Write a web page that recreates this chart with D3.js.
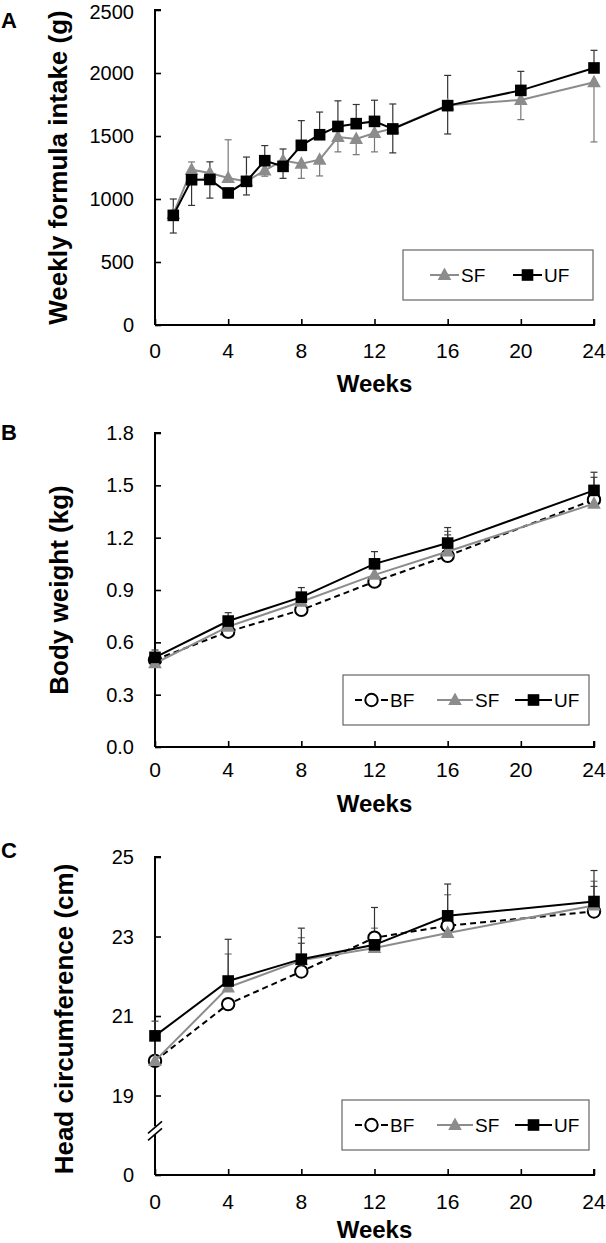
<!DOCTYPE html>
<html>
<head>
<meta charset="utf-8">
<script src="https://cdn.jsdelivr.net/npm/d3@7/dist/d3.min.js"></script>
<style>
  body { margin: 0; background: #fff; }
  svg { display: block; }
  text { font-family: Arial, "Liberation Sans", sans-serif; fill: #000; }
</style>
</head>
<body>
<svg id="chart" width="606" height="1243"></svg>
<script>
// ---- data: panel A (weekly formula intake, g) ----
const weeksA = [1, 2, 3, 4, 5, 6, 7, 8, 9, 10, 11, 12, 13, 16, 20, 24];
const intakeSF = [880, 1233, 1206, 1167, 1140, 1227, 1306, 1280, 1312, 1492, 1476, 1524, 1560, 1745, 1786, 1926];
const intakeSFUp = [0, 61, 0, 303, 0, 0, 0, 0, 0, 0, 0, 0, 0, 0, 0, 0];
const intakeSFDown = [0, 0, 0, 0, 0, 46, 0, 116, 129, 118, 124, 150, 0, 0, 156, 473];
const intakeUF = [870, 1153, 1155, 1048, 1140, 1304, 1259, 1426, 1510, 1576, 1598, 1616, 1556, 1741, 1862, 2040];
const intakeUFUp = [130, 0, 140, 0, 193, 120, 138, 196, 180, 203, 152, 168, 198, 240, 151, 140];
const intakeUFDown = [140, 204, 148, 0, 108, 0, 95, 0, 0, 0, 0, 0, 190, 225, 0, 0];
const yTicksA = [0, 500, 1000, 1500, 2000, 2500];

// ---- data: panel B (body weight, kg) ----
const weeksB = [0, 4, 8, 12, 16, 24];
const weightBF = [0.50, 0.661, 0.786, 0.948, 1.096, 1.418];
const weightBFUp = [0.04, 0, 0, 0, 0.12, 0.128];
const weightSF = [0.48, 0.69, 0.833, 0.987, 1.121, 1.395];
const weightSFUp = [0, 0, 0, 0, 0.115, 0];
const weightUF = [0.514, 0.722, 0.859, 1.05, 1.169, 1.471];
const weightUFUp = [0.042, 0.048, 0.055, 0.07, 0.089, 0.104];
const yTicksB = [0, 0.3, 0.6, 0.9, 1.2, 1.5, 1.8];

// ---- data: panel C (head circumference, cm) ----
const weeksC = [0, 4, 8, 12, 16, 24];
const headBF = [19.87, 21.30, 22.12, 22.97, 23.27, 23.63];
const headBFUp = [1.0, 0, 0.71, 0, 0, 0.63];
const headSF = [19.87, 21.72, 22.40, 22.71, 23.09, 23.78];
const headSFUp = [0, 0.84, 0.57, 0.5, 0.96, 0.61];
const headUF = [20.5, 21.88, 22.43, 22.79, 23.52, 23.88];
const headUFUp = [0, 1.05, 0.78, 0.94, 0.8, 0.78];
const yTicksC = [17, 19, 21, 23, 25];   // 17 sits at the axis break and is labelled "0"
const xTicks = [0, 4, 8, 12, 16, 20, 24];

const svg = d3.select('#chart');
const left = 155, right = 594;
const x = d3.scaleLinear().domain([0, 24]).range([left, right]);

const styles = {
  BF: { line: '#000', dash: '6,4', marker: 'circle', fill: '#fff', stroke: '#000', err: '#444' },
  SF: { line: '#8c8c8c', dash: null, marker: 'triangle', fill: '#8c8c8c', stroke: 'none', err: '#777' },
  UF: { line: '#000', dash: null, marker: 'square', fill: '#000', stroke: 'none', err: '#333' }
};

function drawMarker(g, kind, cx, cy, st) {
  if (kind === 'square') {
    g.append('rect').attr('x', cx - 5.8).attr('y', cy - 5.8).attr('width', 11.6).attr('height', 11.6)
      .attr('fill', st.fill);
  } else if (kind === 'triangle') {
    g.append('path')
      .attr('d', `M${cx},${cy - 7.5}L${cx + 6.8},${cy + 5}L${cx - 6.8},${cy + 5}Z`)
      .attr('fill', st.fill);
  } else {
    g.append('circle').attr('cx', cx).attr('cy', cy).attr('r', 6.2)
      .attr('fill', st.fill).attr('stroke', st.stroke).attr('stroke-width', 2);
  }
}

function drawPanel(p) {
  const g = svg.append('g');
  const y = d3.scaleLinear().domain(p.yDomain).range([p.bottom, p.top]);

  // axes (ticks point inward)
  const yAxis = g.append('g').attr('transform', `translate(${left},0)`)
    .call(d3.axisRight(y).tickValues(p.yTicks).tickSize(6).tickFormat(''));
  const xAxis = g.append('g').attr('transform', `translate(0,${p.bottom})`)
    .call(d3.axisTop(x).tickValues(xTicks).tickSize(6).tickFormat(''));
  [yAxis, xAxis].forEach(a => {
    a.select('.domain').attr('stroke', '#000').attr('stroke-width', 2);
    a.selectAll('.tick line').attr('stroke', '#000').attr('stroke-width', 1.6);
  });
  xAxis.select('.domain').attr('d', `M${left},0H${right}V-6`);
  yAxis.select('.domain').attr('d', `M6,${p.top}H0V${p.bottom}`);

  // tick labels
  g.selectAll('.ylab').data(p.yTicks).enter().append('text')
    .attr('x', 134).attr('y', d => Math.max(y(d), 12)).attr('dy', '0.35em')
    .attr('text-anchor', 'end').style('font-size', '20px')
    .text(p.yFormat);
  g.selectAll('.xlab').data(xTicks).enter().append('text')
    .attr('x', d => x(d)).attr('y', p.bottom + p.xLabOff)
    .attr('text-anchor', 'middle').style('font-size', '21px')
    .text(d => d);

  // axis break marks (panel C)
  if (p.breakAt != null) {
    const by = y(p.breakAt);
    g.append('rect').attr('x', left - 3).attr('y', by - 5).attr('width', 6).attr('height', 8).attr('fill', '#fff');
    [-4, 3].forEach(o => {
      g.append('line').attr('x1', left - 7).attr('y1', by + o + 6).attr('x2', left + 7).attr('y2', by + o - 6)
        .attr('stroke', '#000').attr('stroke-width', 1.6);
    });
  }

  // titles
  g.append('text').attr('transform', `translate(${p.titleX},${(p.top + p.bottom) / 2 + p.titleShift}) rotate(-90)`)
    .attr('text-anchor', 'middle').style('font-size', '26px').style('font-weight', 'bold')
    .text(p.yTitle);
  g.append('text').attr('x', (left + right) / 2).attr('y', p.bottom + p.weeksOff)
    .attr('text-anchor', 'middle').style('font-size', '24px').style('font-weight', 'bold')
    .text('Weeks');
  g.append('text').attr('x', 1).attr('y', p.letterY)
    .style('font-size', '22px').style('font-weight', 'bold').text(p.letter);

  // error bars
  p.series.forEach(s => {
    const st = styles[s.name];
    s.values.forEach((v, i) => {
      const cx = x(s.weeks[i]);
      [[s.up ? s.up[i] : 0, 1], [s.down ? s.down[i] : 0, -1]].forEach(([e, sign]) => {
        if (!e) return;
        const ey = y(v + sign * e);
        g.append('line').attr('x1', cx).attr('x2', cx).attr('y1', y(v)).attr('y2', ey)
          .attr('stroke', st.err).attr('stroke-width', 1.2);
        g.append('line').attr('x1', cx - 3.5).attr('x2', cx + 3.5).attr('y1', ey).attr('y2', ey)
          .attr('stroke', st.err).attr('stroke-width', 1.2);
      });
    });
  });

  // lines and markers
  p.series.forEach(s => {
    const st = styles[s.name];
    const pts = s.values.map((v, i) => [x(s.weeks[i]), y(v)]);
    g.append('path').attr('d', d3.line()(pts)).attr('fill', 'none')
      .attr('stroke', st.line).attr('stroke-width', 2)
      .attr('stroke-dasharray', st.dash);
    pts.forEach(([cx, cy]) => drawMarker(g, st.marker, cx, cy, st));
  });

  // legend
  const L = p.legend;
  g.append('rect').attr('x', L.x).attr('y', L.y).attr('width', L.w).attr('height', L.h)
    .attr('fill', '#fff').attr('stroke', '#666').attr('stroke-width', 1.2);
  const cy = L.y + L.h / 2;
  L.items.forEach(it => {
    const st = styles[it.name];
    g.append('line').attr('x1', it.x0).attr('x2', it.x1).attr('y1', cy).attr('y2', cy)
      .attr('stroke', st.line).attr('stroke-width', 2)
      .attr('stroke-dasharray', it.name === 'BF' ? '7,19' : null);
    drawMarker(g, st.marker, (it.x0 + it.x1) / 2, cy, st);
    g.append('text').attr('x', it.x1 + 2).attr('y', cy).attr('dy', '0.36em')
      .style('font-size', '19px').text(it.name);
  });
}

const legend3 = [
  { name: 'BF', x0: 355, x1: 388 },
  { name: 'SF', x0: 437, x1: 473 },
  { name: 'UF', x0: 515, x1: 552 }
];

drawPanel({
  letter: 'A', letterY: 28, top: 10, bottom: 325, yDomain: [0, 2500], yTicks: yTicksA,
  yFormat: d => d, yTitle: 'Weekly formula intake (g)', titleX: 67, titleShift: 0,
  xLabOff: 33, weeksOff: 67,
  series: [
    { name: 'SF', weeks: weeksA, values: intakeSF, up: intakeSFUp, down: intakeSFDown },
    { name: 'UF', weeks: weeksA, values: intakeUF, up: intakeUFUp, down: intakeUFDown }
  ],
  legend: { x: 403, y: 250, w: 190, h: 50, items: [
    { name: 'SF', x0: 430, x1: 459 },
    { name: 'UF', x0: 513, x1: 542 }
  ] }
});

drawPanel({
  letter: 'B', letterY: 440, top: 433, bottom: 747, yDomain: [0, 1.8], yTicks: yTicksB,
  yFormat: d3.format('.1f'), yTitle: 'Body weight (kg)', titleX: 68, titleShift: 0,
  xLabOff: 30, weeksOff: 65,
  series: [
    { name: 'BF', weeks: weeksB, values: weightBF, up: weightBFUp },
    { name: 'SF', weeks: weeksB, values: weightSF, up: weightSFUp },
    { name: 'UF', weeks: weeksB, values: weightUF, up: weightUFUp }
  ],
  legend: { x: 343, y: 675, w: 246, h: 50, items: legend3 }
});

drawPanel({
  letter: 'C', letterY: 858, top: 857, bottom: 1175, yDomain: [17, 25], yTicks: yTicksC,
  yFormat: d => d === 17 ? 0 : d, yTitle: 'Head circumference (cm)', titleX: 73, titleShift: 3,
  xLabOff: 34, weeksOff: 63, breakAt: 18.1,
  series: [
    { name: 'BF', weeks: weeksC, values: headBF, up: headBFUp },
    { name: 'SF', weeks: weeksC, values: headSF, up: headSFUp },
    { name: 'UF', weeks: weeksC, values: headUF, up: headUFUp }
  ],
  legend: { x: 342, y: 1100, w: 247, h: 50, items: legend3 }
});
</script>
</body>
</html>
